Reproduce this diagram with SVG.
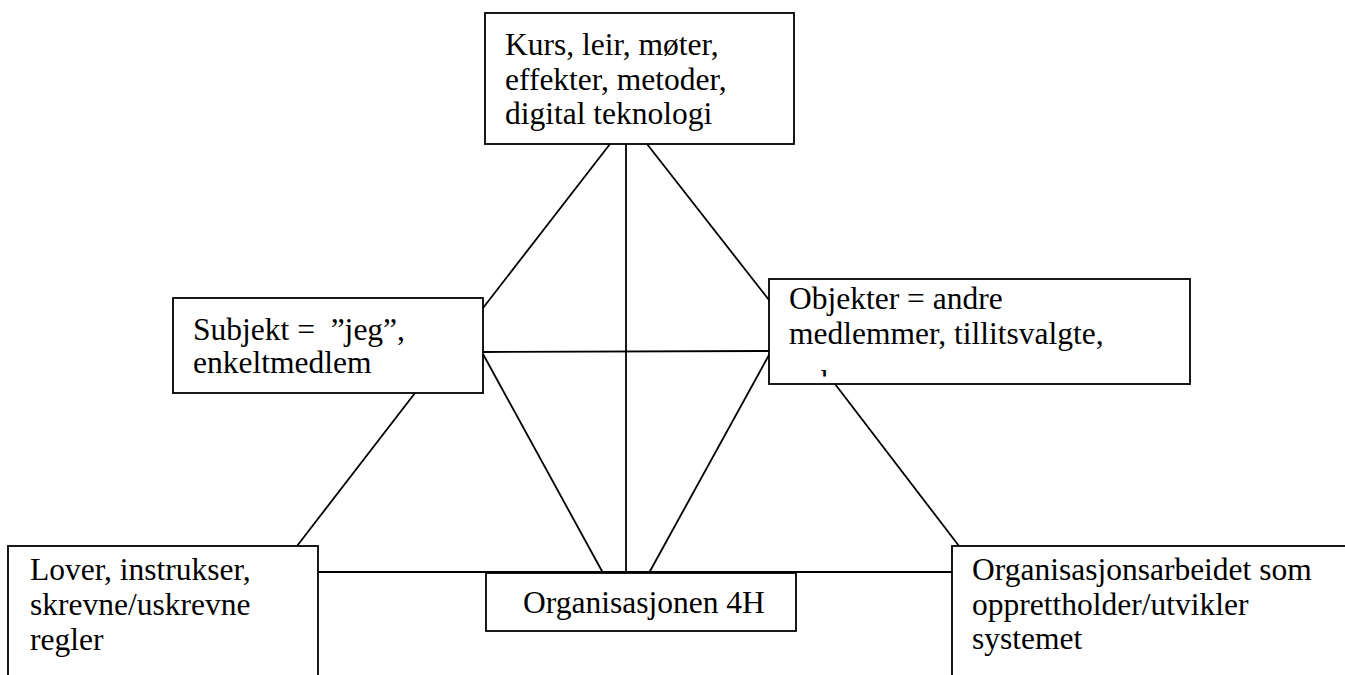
<svg xmlns="http://www.w3.org/2000/svg" width="1345" height="675" viewBox="0 0 1345 675">
<style>
.box{fill:#fff;stroke:#000;stroke-width:1.8}
.ln{stroke:#000;stroke-width:1.8;fill:none}
text{font-family:"Liberation Serif","Times New Roman",serif;font-size:31.5px;fill:#000;white-space:pre}
</style>
<defs>
<clipPath id="clipObj"><rect x="770" y="280" width="419" height="96.5"/></clipPath>
</defs>
<rect width="1345" height="675" fill="#fff"/>
<g id="connectors">
<line class="ln" x1="626" y1="144" x2="626" y2="573"/>
<line class="ln" x1="610" y1="144" x2="483" y2="308"/>
<line class="ln" x1="647" y1="144" x2="769" y2="300"/>
<line class="ln" x1="483" y1="352" x2="769" y2="351"/>
<line class="ln" x1="483" y1="354" x2="603" y2="573"/>
<line class="ln" x1="769" y1="355" x2="649" y2="573"/>
<line class="ln" x1="415" y1="393" x2="297" y2="546"/>
<line class="ln" x1="835" y1="384" x2="959" y2="546"/>
<line class="ln" x1="318" y1="572" x2="952" y2="572"/>
</g>
<g id="node-top">
<rect class="box" x="485" y="13" width="309" height="131"/>
<text x="505" y="55">Kurs, leir, møter,</text>
<text x="505" y="90">effekter, metoder,</text>
<text x="505" y="124">digital teknologi</text>
</g>
<g id="node-subjekt">
<rect class="box" x="173" y="298" width="310" height="95"/>
<text x="193" y="340" xml:space="preserve">Subjekt =  ”jeg”,</text>
<text x="193" y="373">enkeltmedlem</text>
</g>
<g id="node-objekter">
<rect class="box" x="769" y="279" width="421" height="105"/>
<g clip-path="url(#clipObj)">
<text x="789" y="309">Objekter = andre</text>
<text x="789" y="344">medlemmer, tillitsvalgte,</text>
<text x="789" y="392">voksne</text>
</g>
</g>
<g id="node-lover">
<rect class="box" x="8" y="546" width="310" height="140"/>
<text x="30" y="580">Lover, instrukser,</text>
<text x="30" y="615">skrevne/uskrevne</text>
<text x="30" y="650">regler</text>
</g>
<g id="node-organisasjon">
<rect class="box" x="486" y="573" width="310" height="58"/>
<text x="523" y="613">Organisasjonen 4H</text>
</g>
<g id="node-arbeid">
<rect class="box" x="952" y="546" width="420" height="140"/>
<text x="972" y="580">Organisasjonsarbeidet som</text>
<text x="972" y="615">opprettholder/utvikler</text>
<text x="972" y="649">systemet</text>
</g>
</svg>
